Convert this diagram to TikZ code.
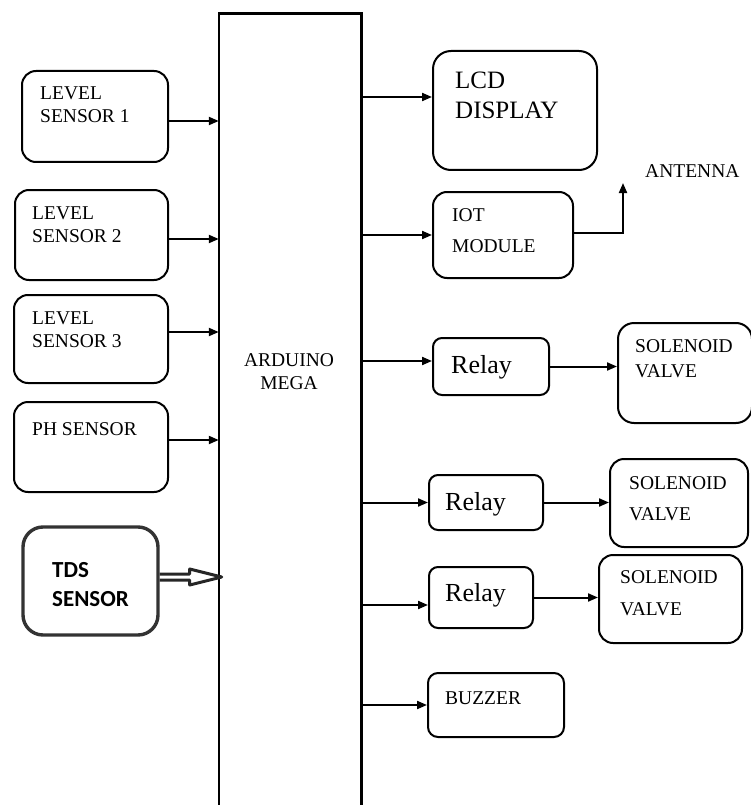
\documentclass[tikz,border=0pt]{standalone}
\usepackage{fontspec}
\setmainfont{Liberation Serif}
\newfontfamily\boxfont{Liberation Serif}
\newfontfamily\tdsfont{Carlito}
\usetikzlibrary{positioning, arrows.meta, fit}

\tikzset{
  blk/.style={draw, line width=2pt, rounded corners=14pt, inner sep=0pt},
  relay/.style={blk, rounded corners=9pt},
  lbl/.style={anchor=north west, inner sep=0pt, align=left, font=\boxfont\fontsize{19.5}{23}\selectfont},
  big/.style={lbl, font=\boxfont\fontsize{25}{30}\selectfont},
  arr/.style={-{Triangle[length=10pt,width=8pt]}, line width=2pt},
}

\begin{document}
\begin{tikzpicture}[x=1pt, y=-1pt]
    \useasboundingbox (0,0) rectangle (750,805);

    % Arduino (open at the bottom)
    \node[fit={(219,14) (361,805)}, inner sep=0pt] (ard) {};
    \draw[line width=2.6pt] (ard.south west) -- (ard.north west) -- (ard.north east) -- (ard.south east);
    \node[lbl, anchor=north, align=center] (ardt) at (289,353) {ARDUINO\\MEGA};

    % sensors
    \node[blk, fit={(22,71) (168,162)}] (ls1) {};
    \node[blk, fit={(15,190) (168,280)}] (ls2) {};
    \node[blk, fit={(14,295) (168,383)}] (ls3) {};
    \node[blk, fit={(14,402) (168,492)}] (ph) {};
    \node[blk, fit={(23,527) (158,635)}, line width=3.4pt, draw=black!80, rounded corners=20pt] (tds) {};
    \node[lbl] (ls1t) at (40,87) {LEVEL\\SENSOR 1};
    \node[lbl] (ls2t) at (32,207) {LEVEL\\SENSOR 2};
    \node[lbl] (ls3t) at (32,312) {LEVEL\\SENSOR 3};
    \node[lbl] (pht) at (32,422) {PH SENSOR};
    \node[lbl, font=\tdsfont\bfseries\fontsize{23}{29}\selectfont] (tdst) at (52,562) {TDS\\SENSOR};

    % outputs
    \node[blk, fit={(433,51) (597,170)}, rounded corners=18pt] (lcd) {};
    \node[blk, fit={(433,192) (573,278)}] (iot) {};
    \node[relay, fit={(433,338) (549,395)}] (r1) {};
    \node[relay, fit={(429,475) (543,530)}] (r2) {};
    \node[relay, fit={(429,567) (533,628)}] (r3) {};
    \node[blk, fit={(618,323) (752,423)}, rounded corners=16pt] (sv1) {};
    \node[blk, fit={(610,459) (748,547)}] (sv2) {};
    \node[blk, fit={(599,555) (742,643)}] (sv3) {};
    \node[blk, fit={(428,673) (564,737)}, rounded corners=10pt] (buz) {};
    \node[big] (lcdt) at (455,72) {LCD\\DISPLAY};
    \node[lbl] (iott) at (452,208) {IOT\\[8pt]MODULE};
    \node[lbl] (antt) at (645,164) {ANTENNA};
    \node[big, font=\boxfont\fontsize{26}{30}\selectfont] (r1t) at (451,355) {Relay};
    \node[big, font=\boxfont\fontsize{26}{30}\selectfont] (r2t) at (445,492) {Relay};
    \node[big, font=\boxfont\fontsize{26}{30}\selectfont] (r3t) at (445,583) {Relay};
    \node[lbl] (sv1t) at (635,339) {SOLENOID\\[2pt]VALVE};
    \node[lbl] (sv2t) at (629,476) {SOLENOID\\[8pt]VALVE};
    \node[lbl] (sv3t) at (620,570) {SOLENOID\\[9pt]VALVE};
    \node[lbl] (buzt) at (445,692) {BUZZER};

    % connectors
    \foreach \b/\dy in {ls1/-4.5, ls2/-4, ls3/7, ph/7}
        \draw[arr] ([yshift=\dy pt]\b.east) coordinate (tmp) -- (tmp -| ard.west);
    % hollow arrow of the TDS sensor
    \draw[line width=3pt, draw=black!85, line join=round]
        ([yshift=7pt]tds.east) -- ++(30,0) -- ++(0,-5) -- ++(32,8) -- ++(-32,8) -- ++(0,-5) -- ++(-30,0);
    \foreach \b/\dy in {lcd/13.5, iot/0, r1/5.5, r2/0, r3/-7.5, buz/0} {
        \path ([yshift=\dy pt]\b.west) coordinate (tmp);
        \draw[arr] (tmp -| ard.east) -- (tmp);
    }
    \draw[arr] (r1.east) -- (r1.east -| sv1.west);
    \draw[arr] (r2.east) -- (r2.east -| sv2.west);
    \draw[arr] (r3.east) -- (r3.east -| sv3.west);
    \coordinate (ant) at (623,183);
    \draw[arr] ([yshift=2pt]iot.east) -| (ant);
\end{tikzpicture}
\end{document}
